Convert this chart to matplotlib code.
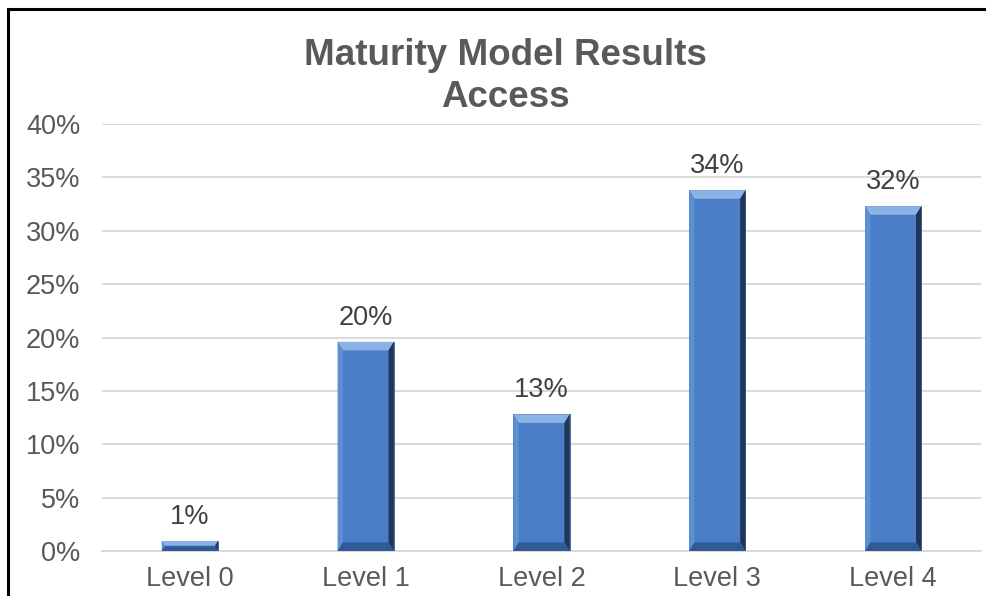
import numpy as np
import matplotlib.pyplot as plt
import matplotlib.patches as patches
from matplotlib.ticker import PercentFormatter

plt.rcParams["font.family"] = ["Liberation Sans", "DejaVu Sans"]

# ── Datos ─────────────────────────────────────────────────────────────────────
levels = ["Level 0", "Level 1", "Level 2", "Level 3", "Level 4"]
shares = [0.94, 19.6, 12.8, 33.8, 32.3]
labels = ["1%", "20%", "13%", "34%", "32%"]
y_ticks = [0, 5, 10, 15, 20, 25, 30, 35, 40]

FACE = "#4a7fc8"
TOP = "#8db3e6"
LEFT = "#5d8fd3"
RIGHT = "#1f3658"
BOTTOM = "#2f5a95"

fig = plt.figure(figsize=(9.87, 5.96), dpi=100)
ax = fig.add_axes([0.1033, 0.0755, 0.8907, 0.7164])

x = np.arange(len(levels))
bars = ax.bar(x, shares, width=0.32, color=FACE, edgecolor="#3a5f8f",
              linewidth=0.6, zorder=3)

# ── Bisel de cada barra ───────────────────────────────────────────────────────
bw = 0.03    # ancho del bisel en x (datos)
bh = 0.8     # alto del bisel en y (datos)
for b in bars:
    x0, w, h = b.get_x(), b.get_width(), b.get_height()
    x1 = x0 + w
    e = min(bh, h / 2.2)
    ex = bw * e / bh
    sides = [
        ([(x0, h), (x1, h), (x1 - ex, h - e), (x0 + ex, h - e)], TOP),
        ([(x1, 0), (x1, h), (x1 - ex, h - e), (x1 - ex, e)], RIGHT),
        ([(x0, 0), (x0, h), (x0 + ex, h - e), (x0 + ex, e)], LEFT),
        ([(x0, 0), (x1, 0), (x1 - ex, e), (x0 + ex, e)], BOTTOM),
    ]
    for pts, col in sides:
        ax.add_patch(patches.Polygon(pts, closed=True, facecolor=col,
                                     edgecolor="none", zorder=4))

for xi, v, lab in zip(x, shares, labels):
    ax.annotate(lab, (xi, v), xytext=(0, 8), textcoords="offset points",
                ha="center", va="bottom", fontsize=19.5, color="#404040")

ax.set_xlim(-0.5, len(levels) - 0.5)
ax.set_ylim(0, 40)
ax.set_yticks(y_ticks)
ax.yaxis.set_major_formatter(PercentFormatter(decimals=0))
ax.set_xticks(x)
ax.set_xticklabels(levels)
ax.tick_params(axis="both", length=0, labelsize=19.5, colors="#595959")
ax.tick_params(axis="y", pad=15.5)
ax.tick_params(axis="x", pad=10.5)
ax.grid(axis="y", color="#d9d9d9", linewidth=1.4, zorder=0)
for s in ["top", "right", "left"]:
    ax.spines[s].set_visible(False)
ax.spines["bottom"].set_color("#d9d9d9")
ax.spines["bottom"].set_linewidth(1.4)

fig.text(0.512, 0.907, "Maturity Model Results", ha="center", va="center",
         fontsize=26.5, fontweight="bold", color="#595959")
fig.text(0.512, 0.836, "Access", ha="center", va="center",
         fontsize=26.5, fontweight="bold", color="#595959")

# marco del gráfico (cortado a la derecha y abajo)
fig.patches.append(patches.Rectangle((8.5 / 987, -0.05), 1.2, 1.05 - 8.5 / 596,
                                     transform=fig.transFigure, fill=False,
                                     edgecolor="black", linewidth=2.2))

fig.savefig("out.png", dpi=100)
